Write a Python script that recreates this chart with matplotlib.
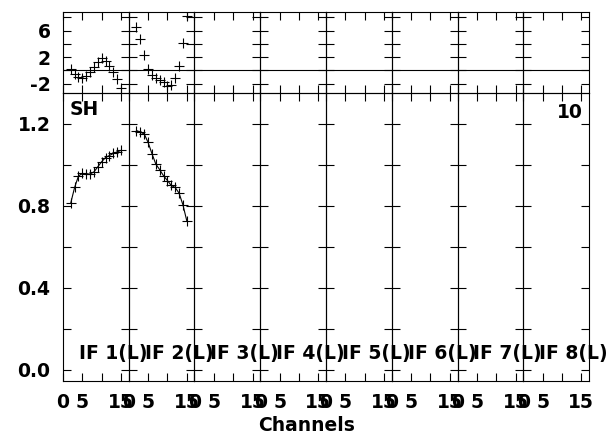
import matplotlib
matplotlib.use('Agg')
import matplotlib.pyplot as plt

# channel numbers and data
channels = [2, 3, 4, 5, 6, 7, 8, 9, 10, 11, 12, 13, 14, 15]

if1_amp = [0.813, 0.889, 0.945, 0.958, 0.955, 0.955, 0.965, 0.99, 1.015, 1.035, 1.045, 1.055, 1.063, 1.07]
if2_amp = [1.167, 1.159, 1.15, 1.109, 1.054, 1.003, 0.976, 0.946, 0.923, 0.899, 0.889, 0.862, 0.805, 0.727]

if1_resid = [0.2, -0.5, -1.0, -1.2, -0.9, -0.2, 0.5, 1.3, 1.8, 1.4, 0.7, -0.2, -1.3, -2.6]
if2_resid = [6.6, 4.8, 2.3, 0.2, -0.7, -1.1, -1.4, -1.8, -2.4, -2.2, -1.1, 0.6, 4.2, 8.2]

if_labels = ['IF 1(L)', 'IF 2(L)', 'IF 3(L)', 'IF 4(L)', 'IF 5(L)', 'IF 6(L)', 'IF 7(L)', 'IF 8(L)']
amp_series = {0: if1_amp, 1: if2_amp}
resid_series = {0: if1_resid, 1: if2_resid}

xticks = [0, 5, 10, 15]
xticklabels = ['0', '5', '', '15']
amp_ticks = [0.0, 0.2, 0.4, 0.6, 0.8, 1.0, 1.2]
amp_ticklabels = ['0.0', '', '0.4', '', '0.8', '', '1.2']
resid_ticks = [-2, 0, 2, 4, 6, 8]
resid_ticklabels = ['-2', '', '2', '', '6', '']

plt.rcParams['font.family'] = 'DejaVu Sans'
plt.rcParams['font.weight'] = 'bold'
fs = 13.5

fig = plt.figure(figsize=(6.14, 4.34), dpi=100)

left, right = 63 / 614, 589 / 614
top_t, bot_t = 1 - 12 / 434, 1 - 93 / 434
bot_m = 1 - 381 / 434
w = (right - left) / 8

for i in range(8):
    x0 = left + i * w
    ax_t = fig.add_axes([x0, bot_t, w, top_t - bot_t])
    ax_m = fig.add_axes([x0, bot_m, w, bot_t - bot_m])

    if i in resid_series:
        ax_t.plot(channels, resid_series[i], '+', color='black', ms=7, mew=0.8)
    ax_t.axhline(0, color='black', lw=0.8)
    if i in amp_series:
        ax_m.plot(channels, amp_series[i], '-', color='black', lw=0.8,
                  marker='+', ms=7, mew=0.8)

    for ax in (ax_t, ax_m):
        ax.patch.set_visible(False)
        ax.set_xlim(0, 17)
        ax.set_xticks(xticks)
        ax.tick_params(direction='in', top=True, right=True, length=6,
                       width=0.8, labelsize=fs, pad=9)
        for s in ax.spines.values():
            s.set_linewidth(0.8)

    ax_t.set_ylim(-3.4, 8.8)
    ax_t.set_yticks(resid_ticks)
    ax_t.set_xticklabels([])
    ax_m.set_ylim(-0.055, 1.35)
    ax_m.set_yticks(amp_ticks)

    if i == 0:
        ax_t.set_yticklabels(resid_ticklabels)
        ax_m.set_yticklabels(amp_ticklabels)
        fig.text(0.1, 0.975, 'SH', transform=ax_m.transAxes, fontsize=fs,
                 fontweight='bold', va='top', ha='left')
    else:
        ax_t.set_yticklabels([])
        ax_m.set_yticklabels([])
    ax_m.set_xticklabels(xticklabels)

    fig.text(0.24, 0.076, if_labels[i], transform=ax_m.transAxes, fontsize=fs,
             fontweight='bold', va='baseline', ha='left')

    if i == 7:
        fig.text(0.9, 0.965, '10', transform=ax_m.transAxes, fontsize=fs,
                 fontweight='bold', va='top', ha='right')

fig.text(0.5, 3 / 434, 'Channels', ha='center', va='baseline',
         fontsize=fs, fontweight='bold')

fig.savefig('out.png', dpi=100)
